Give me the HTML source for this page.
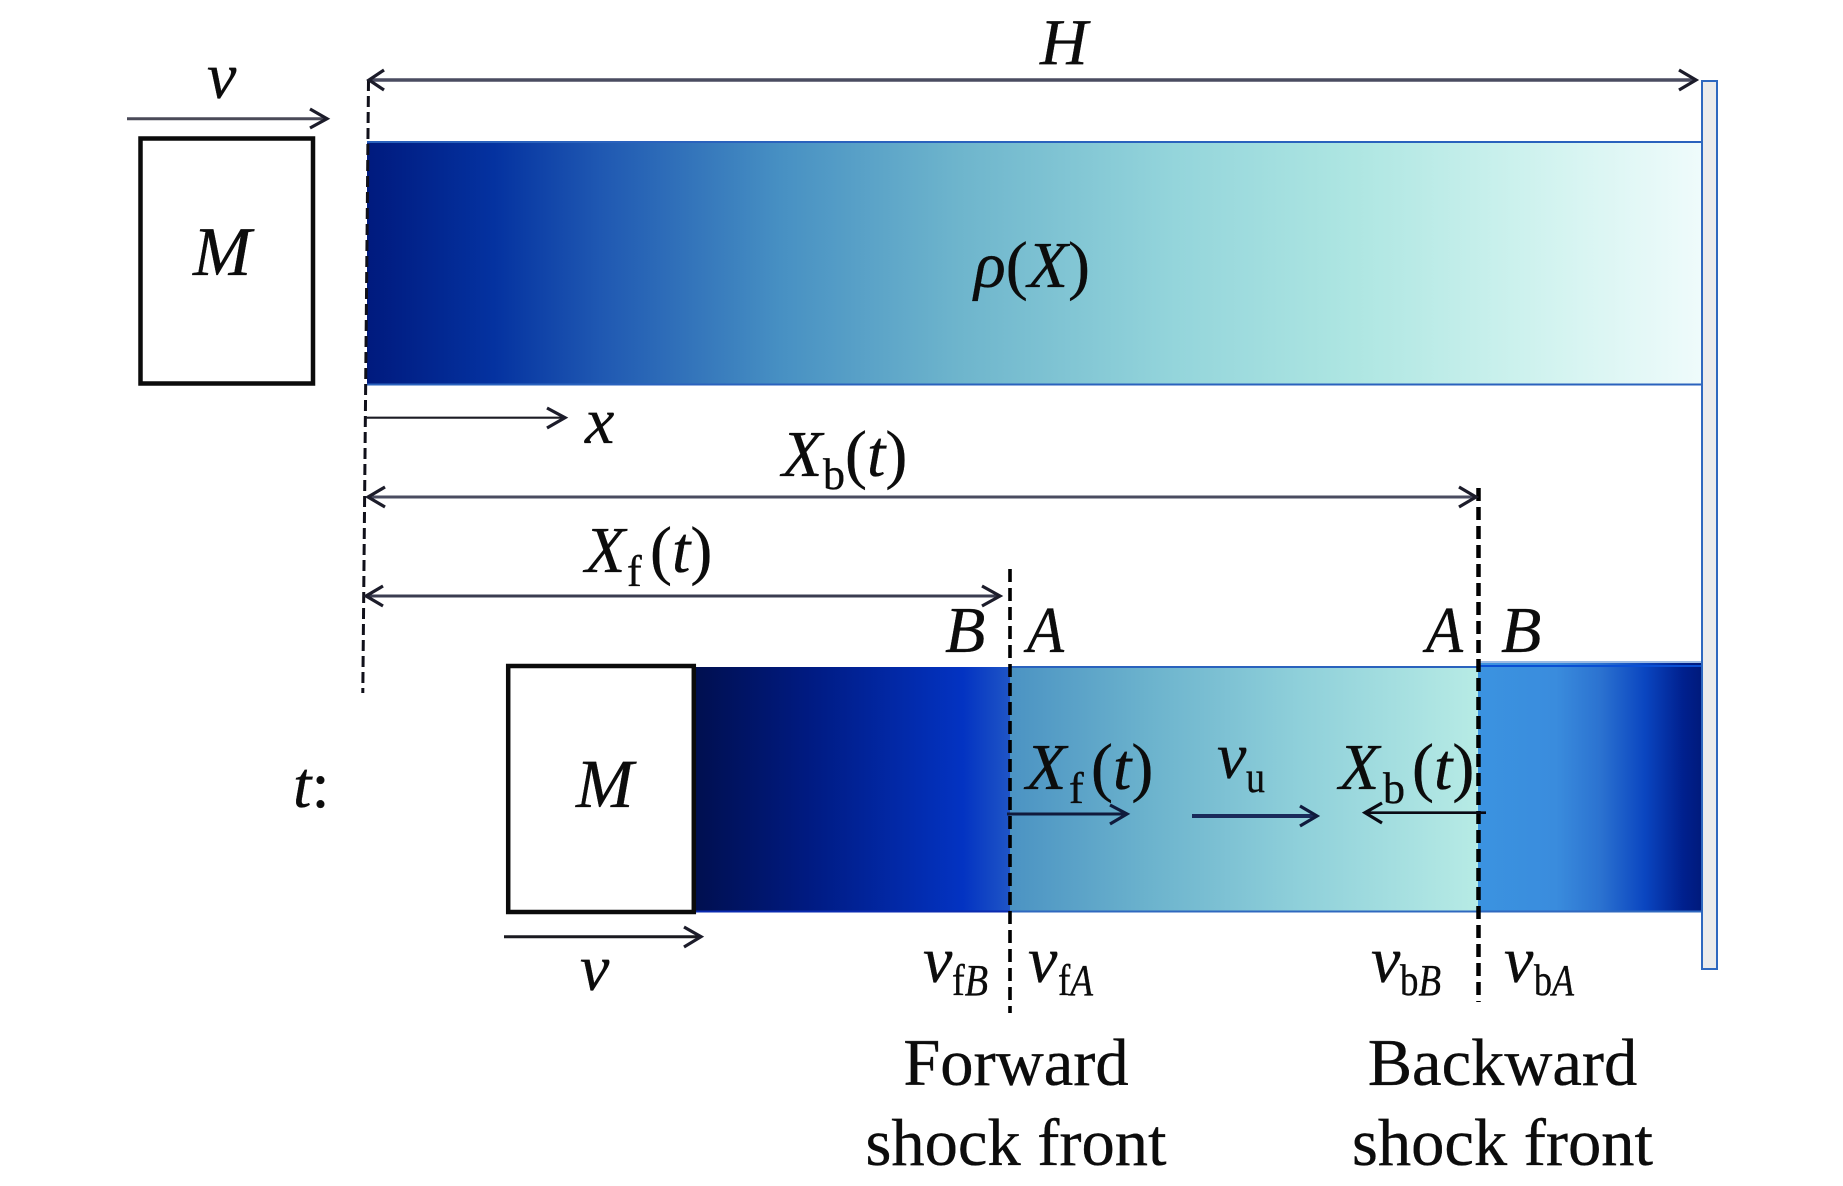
<!DOCTYPE html>
<html>
<head>
<meta charset="utf-8">
<title>Shock front diagram</title>
<style>
html,body{margin:0;padding:0;background:#fff}
svg{display:block}
text{font-family:"Liberation Serif",serif;fill:#0c0c0c;stroke:#0c0c0c;stroke-width:.35;font-size:66px}
.i{font-style:italic}
.s{font-size:44px}
.si{font-size:44px;font-style:italic}
.a{fill:none;stroke:#1c1c2a;stroke-width:3.2}
</style>
</head>
<body>
<svg width="1843" height="1186" viewBox="0 0 1843 1186" xmlns="http://www.w3.org/2000/svg">
<defs>
<linearGradient id="g1" x1="0" x2="1" y1="0" y2="0">
<stop offset="0" stop-color="#001a7e"/>
<stop offset=".095" stop-color="#0432a0"/>
<stop offset=".175" stop-color="#1f58b2"/>
<stop offset=".31" stop-color="#4790c3"/>
<stop offset=".44" stop-color="#6db4cc"/>
<stop offset=".606" stop-color="#94d5db"/>
<stop offset=".74" stop-color="#aee6e2"/>
<stop offset=".87" stop-color="#cef2ee"/>
<stop offset="1" stop-color="#effbfb"/>
</linearGradient>
<linearGradient id="g2" x1="0" x2="1" y1="0" y2="0">
<stop offset="0" stop-color="#000f4f"/>
<stop offset=".35" stop-color="#001a80"/>
<stop offset=".85" stop-color="#0333c2"/>
<stop offset="1" stop-color="#1f55c6"/>
</linearGradient>
<linearGradient id="g3" x1="0" x2="1" y1="0" y2="0">
<stop offset="0" stop-color="#4b93c3"/>
<stop offset=".3" stop-color="#6cb3cd"/>
<stop offset=".62" stop-color="#8fd0da"/>
<stop offset="1" stop-color="#b7ebe5"/>
</linearGradient>
<linearGradient id="g4" x1="0" x2="1" y1="0" y2="0">
<stop offset="0" stop-color="#3b93e0"/>
<stop offset=".35" stop-color="#3a8cdd"/>
<stop offset=".55" stop-color="#2b72d0"/>
<stop offset=".75" stop-color="#0a45c0"/>
<stop offset=".92" stop-color="#00208e"/>
<stop offset="1" stop-color="#001a7c"/>
</linearGradient>
</defs>

<!-- top bar -->
<rect x="367" y="142" width="1334" height="243" fill="url(#g1)"/>
<line x1="367" y1="142" x2="1701" y2="142" stroke="#2a62bd" stroke-width="2"/>
<line x1="367" y1="384.5" x2="1701" y2="384.5" stroke="#2a62bd" stroke-width="2"/>

<!-- lower bars -->
<rect x="695" y="667" width="315" height="245" fill="url(#g2)"/>
<rect x="1010" y="667" width="468" height="245" fill="url(#g3)"/>
<rect x="1478" y="663" width="223" height="249" fill="url(#g4)"/>
<line x1="695" y1="911.5" x2="1010" y2="911.5" stroke="#0a2ab0" stroke-width="2"/>
<line x1="1010" y1="667" x2="1478" y2="667" stroke="#2a62bd" stroke-width="2"/>
<line x1="1010" y1="911.5" x2="1701" y2="911.5" stroke="#2f68bf" stroke-width="2"/>
<line x1="1478" y1="662" x2="1701" y2="662" stroke="#7ba3dc" stroke-width="1.5"/>
<line x1="1478" y1="666" x2="1701" y2="666" stroke="#0a4fd4" stroke-width="2"/>

<!-- wall -->
<rect x="1702" y="81" width="15" height="888" fill="#ebebeb" stroke="#2f68bf" stroke-width="2"/>

<!-- mass boxes -->
<rect x="140.5" y="138.5" width="172.5" height="245" fill="#fff" stroke="#0b0b0b" stroke-width="4.5"/>
<rect x="508.2" y="666" width="185.6" height="246" fill="#fff" stroke="#0b0b0b" stroke-width="4.5"/>

<!-- dashed lines -->
<line x1="368.5" y1="80" x2="362.8" y2="693" stroke="#10101a" stroke-width="3" stroke-dasharray="11 5"/>
<line x1="1010" y1="569" x2="1010" y2="1013" stroke="#000" stroke-width="3.6" stroke-dasharray="13 6"/>
<line x1="1478.5" y1="488" x2="1478.5" y2="1002" stroke="#000" stroke-width="4.5" stroke-dasharray="13 6"/>

<!-- arrows -->
<line x1="370" y1="80" x2="1695" y2="80" stroke="#4a4c60" stroke-width="3.4"/>
<path class="a" d="M384 70 L369 80 L384 90"/>
<path class="a" d="M1679 70 L1696 80 L1679 90"/>

<line x1="127" y1="118.7" x2="326" y2="118.7" stroke="#4a4a58" stroke-width="3"/>
<path class="a" d="M310 109 L327 118.7 L310 128"/>

<line x1="366" y1="417.7" x2="564" y2="417.7" stroke="#1c1c24" stroke-width="2.2"/>
<path class="a" d="M547 408 L565 417.7 L547 428" stroke-width="2.6"/>

<line x1="370" y1="497" x2="1476" y2="497" stroke="#4a4c60" stroke-width="3"/>
<path class="a" d="M385 487 L368 497 L385 507"/>
<path class="a" d="M1459 487 L1476 497 L1459 507"/>

<line x1="368" y1="596" x2="998" y2="596" stroke="#3a3c50" stroke-width="3"/>
<path class="a" d="M383 586 L366 596 L383 606"/>
<path class="a" d="M982 586 L1000 596 L982 606"/>

<line x1="1007" y1="814" x2="1126" y2="814" stroke="#101a3c" stroke-width="3"/>
<path class="a" d="M1110 805 L1127 814 L1110 824" style="stroke:#101a3c"/>

<line x1="1192" y1="816" x2="1316" y2="816" stroke="#1a2a5a" stroke-width="4"/>
<path class="a" d="M1300 806 L1317 816 L1300 826" style="stroke:#101a3c"/>

<line x1="1486" y1="812.7" x2="1366" y2="812.7" stroke="#0a0a14" stroke-width="2.6"/>
<path class="a" d="M1382 803 L1365 812.7 L1382 823" style="stroke:#0a0a14"/>

<line x1="504" y1="936.7" x2="700" y2="936.7" stroke="#1a1a20" stroke-width="3"/>
<path class="a" d="M684 927 L701 936.7 L684 947"/>

<!-- labels -->
<text class="i" x="1040" y="64">H</text>
<text class="i" x="207" y="98">v</text>
<text class="i" x="193" y="275" style="font-size:70px">M</text>
<text x="974" y="287"><tspan class="i">ρ</tspan>(<tspan class="i">X</tspan>)</text>
<text class="i" x="585" y="443">x</text>

<text class="i" x="782" y="476">X</text><text class="s" x="823" y="489">b</text><text x="845" y="476">(<tspan class="i">t</tspan>)</text>
<text class="i" x="585" y="572">X</text><text class="s" x="627" y="586">f</text><text x="650" y="572">(<tspan class="i">t</tspan>)</text>

<text class="i" x="945" y="652">B</text>
<text class="i" x="1027" y="652" textLength="37" lengthAdjust="spacingAndGlyphs">A</text>
<text class="i" x="1426" y="652" textLength="37" lengthAdjust="spacingAndGlyphs">A</text>
<text class="i" x="1501" y="652">B</text>

<text x="293" y="807"><tspan class="i">t</tspan>:</text>
<text class="i" x="576" y="807" style="font-size:69px">M</text>

<text class="i" x="1026" y="789">X</text><text class="s" x="1069" y="803">f</text><text x="1091" y="789">(<tspan class="i">t</tspan>)</text>
<text class="i" x="1217" y="778">v</text><text class="s" x="1246" y="792" textLength="19" lengthAdjust="spacingAndGlyphs">u</text>
<text class="i" x="1339" y="789">X</text><text class="s" x="1383" y="803">b</text><text x="1412" y="789">(<tspan class="i">t</tspan>)</text>

<text class="i" x="580" y="990">v</text>
<text class="i" x="923" y="982">v</text><text class="s" x="952" y="995" textLength="36" lengthAdjust="spacingAndGlyphs">f<tspan class="si">B</tspan></text>
<text class="i" x="1028" y="982">v</text><text class="s" x="1058" y="995" textLength="35" lengthAdjust="spacingAndGlyphs">f<tspan class="si">A</tspan></text>
<text class="i" x="1371" y="982">v</text><text class="s" x="1400" y="995" textLength="41" lengthAdjust="spacingAndGlyphs">b<tspan class="si">B</tspan></text>
<text class="i" x="1504" y="982">v</text><text class="s" x="1534" y="995" textLength="40" lengthAdjust="spacingAndGlyphs">b<tspan class="si">A</tspan></text>

<text x="1016" y="1085" text-anchor="middle" style="font-size:66.5px">Forward</text>
<text x="1016" y="1165" text-anchor="middle" style="font-size:66.5px">shock front</text>
<text x="1502.5" y="1085" text-anchor="middle" style="font-size:66.5px">Backward</text>
<text x="1502.5" y="1165" text-anchor="middle" style="font-size:66.5px">shock front</text>
</svg>
</body>
</html>
